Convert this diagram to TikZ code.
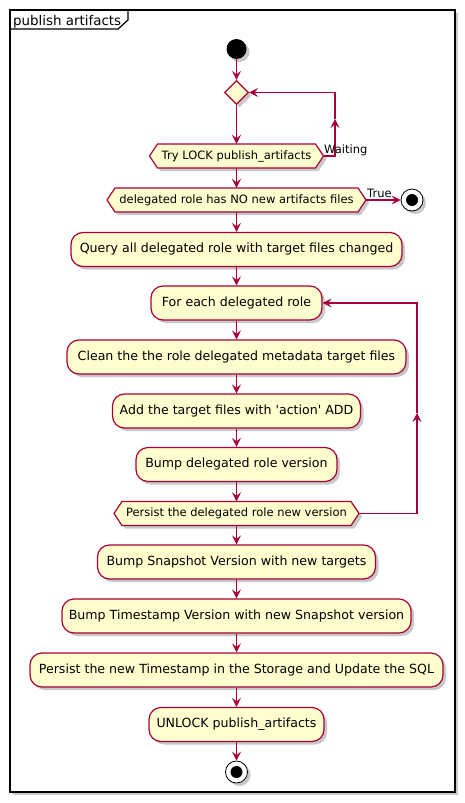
\documentclass[tikz,border=0pt]{standalone}
\usepackage{fontspec}
\setmainfont{DejaVu Sans}
\usetikzlibrary{arrows.meta,shadows,shapes.geometric}
\definecolor{pfill}{HTML}{FEFECE}
\definecolor{pline}{HTML}{A80036}
\tikzset{
 shade/.style={drop shadow={shadow xshift=3pt,shadow yshift=-3pt,opacity=0.3,fill=black!70}},
 act/.style={draw=pline,fill=pfill,line width=1.2pt,rounded corners=12pt,font=\fontsize{12.6}{14}\selectfont,shade,inner sep=0pt,minimum height=34},
 hexfill/.style={draw=pline,fill=pfill,line width=1.2pt,shade},
 hextext/.style={font=\fontsize{11.5}{13}\selectfont,inner sep=0pt},
 lbl/.style={font=\fontsize{11.5}{13}\selectfont,inner sep=0pt,anchor=base west},
 flow/.style={draw=pline,line width=1.2pt,-{Stealth[length=9pt,width=9pt,inset=3.5pt]}},
 line/.style={draw=pline,line width=1.2pt},
}
\newcommand{\hexbox}[6]{%
 \draw[hexfill] ({#2-#4/2},#3) -- ({#2-#4/2+8},{#3-#5/2}) -- ({#2+#4/2-8},{#3-#5/2}) -- ({#2+#4/2},#3) -- ({#2+#4/2-8},{#3+#5/2}) -- ({#2-#4/2+8},{#3+#5/2}) -- cycle;
 \node[hextext,minimum width=#4,minimum height=#5] (#1) at (#2,#3) {#6};}
\begin{document}
\begin{tikzpicture}[x=1pt,y=-1pt]
\useasboundingbox (0,0) rectangle (465,803);
% frame
\draw[line width=1.5pt,fill=white,shade] (10,10) rectangle (455,792);
\draw[line width=1.2pt] (10,29) -- (118,29) -- (128,20) -- (128,10);
\node[font=\fontsize{13.4}{15}\selectfont,inner sep=0pt,anchor=base west] (title) at (13,25) {publish artifacts};
% start
\node[circle,fill=black,minimum size=20,inner sep=0pt,shade] (start) at (236.5,49) {};
\node[diamond,draw=pline,fill=pfill,line width=1.2pt,minimum width=24,minimum height=24,inner sep=0pt,shade] (d0) at (236.5,92.5) {};
\hexbox{h1}{236.5}{156}{174}{24}{Try LOCK publish\_artifacts}
\hexbox{h2}{236.5}{200}{259}{24}{delegated role has NO new artifacts files}
\node[circle,draw=black,fill=white,line width=0.8pt,minimum size=22,inner sep=0pt,shade] (end1) at (412,200) {};
\node[circle,fill=black,minimum size=12,inner sep=0pt] (end1c) at (end1) {};
\node[act,minimum width=331] (b1) at (236.5,249.5) {Query all delegated role with target files changed};
\node[act,minimum width=171] (b2) at (236.5,303) {For each delegated role};
\node[act,minimum width=339] (b3) at (236.5,357) {Clean the the role delegated metadata target files};
\node[act,minimum width=248] (b4) at (236.5,411) {Add the target files with \textquotesingle action\textquotesingle{} ADD};
\node[act,minimum width=201] (b5) at (236.5,464.5) {Bump delegated role version};
\hexbox{h3}{236.5}{513.5}{245}{24}{Persist the delegated role new version}
\node[act,minimum width=278] (b6) at (236.5,562) {Bump Snapshot Version with new targets};
\node[act,minimum width=349] (b7) at (236.5,616) {Bump Timestamp Version with new Snapshot version};
\node[act,minimum width=413] (b8) at (236.5,670) {Persist the new Timestamp in the Storage and Update the SQL};
\node[act,minimum width=175] (b9) at (236.5,724.5) {UNLOCK publish\_artifacts};
\node[circle,draw=black,fill=white,line width=0.8pt,minimum size=22,inner sep=0pt,shade] (end2) at (236.5,772) {};
\node[circle,fill=black,minimum size=12,inner sep=0pt] (end2c) at (end2) {};
% connectors
\draw[flow] (start) -- (d0);
\draw[flow] (d0) -- (h1);
\coordinate (w1) at (335,156);
\coordinate (w2) at (335,119);
\coordinate (w3) at (335,92.5);
\draw[flow] (h1.east) -- (w1) -- (w2);
\draw[flow] (w2) -- (w3) -- (d0.east);
\node[lbl] (waiting) at (324,153) {Waiting};
\draw[flow] (h1) -- (h2);
\draw[flow] (h2.east) -- (end1);
\node[lbl] (true) at (367,197) {True};
\draw[flow] (h2) -- (b1);
\draw[flow] (b1) -- (b2);
\draw[flow] (b2) -- (b3);
\draw[flow] (b3) -- (b4);
\draw[flow] (b4) -- (b5);
\draw[flow] (b5) -- (h3);
\coordinate (l1) at (417,513.5);
\coordinate (l2) at (417,413);
\coordinate (l3) at (417,303);
\draw[flow] (h3.east) -- (l1) -- (l2);
\draw[flow] (l2) -- (l3) -- (b2.east);
\draw[flow] (h3) -- (b6);
\draw[flow] (b6) -- (b7);
\draw[flow] (b7) -- (b8);
\draw[flow] (b8) -- (b9);
\draw[flow] (b9) -- (end2);
\end{tikzpicture}
\end{document}
